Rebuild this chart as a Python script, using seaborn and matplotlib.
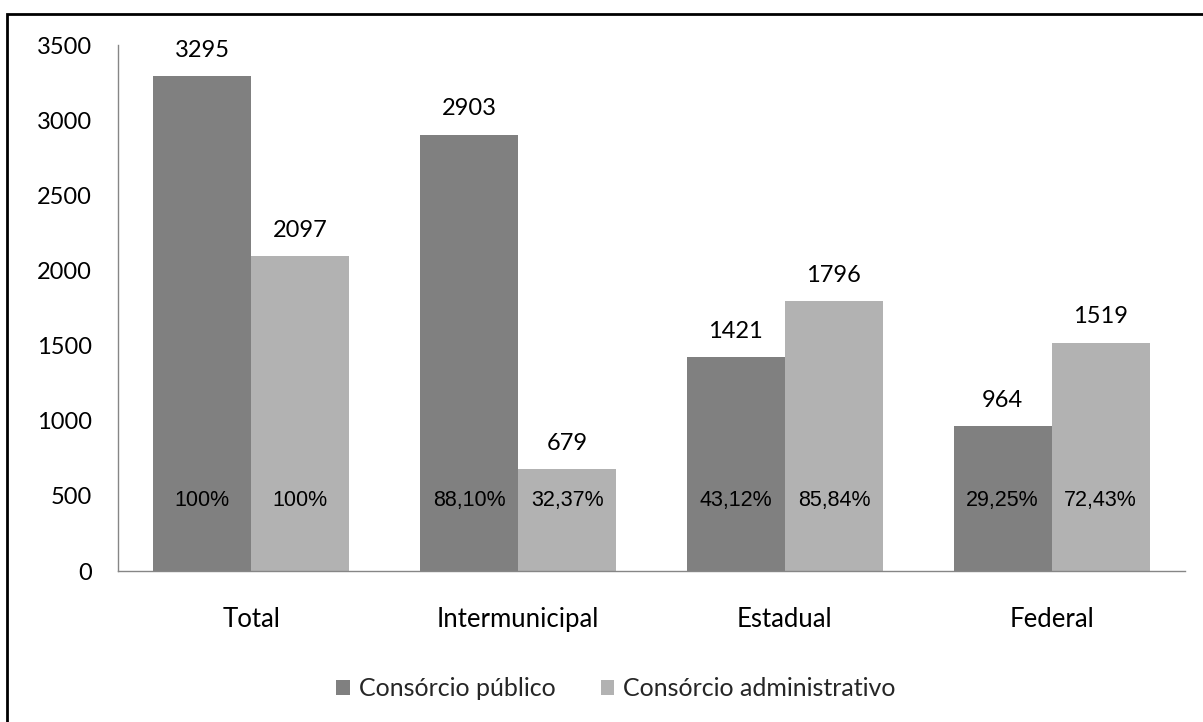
import matplotlib
matplotlib.use("Agg")
import matplotlib.pyplot as plt
from matplotlib.patches import Rectangle, Patch
import seaborn as sns
import pandas as pd

categorias = ["Total", "Intermunicipal", "Estadual", "Federal"]
series = ["Consórcio público", "Consórcio administrativo"]
publico = [3295, 2903, 1421, 964]
administrativo = [2097, 679, 1796, 1519]
pct_publico = ["100%", "88,10%", "43,12%", "29,25%"]
pct_administrativo = ["100%", "32,37%", "85,84%", "72,43%"]
yticks = [0, 500, 1000, 1500, 2000, 2500, 3000, 3500]

cores = ["#808080", "#b2b2b2"]

df = pd.DataFrame({
    "categoria": categorias * 2,
    "serie": [series[0]] * 4 + [series[1]] * 4,
    "valor": publico + administrativo,
})

sns.set_theme(style="white")
plt.rcParams["font.family"] = ["Lato", "DejaVu Sans"]

fig = plt.figure(figsize=(12.03, 7.22), dpi=100)
ax = fig.add_axes([118 / 1203, 1 - 571 / 722, (1185 - 118) / 1203, (571 - 45) / 722])

sns.barplot(data=df, x="categoria", y="valor", hue="serie", hue_order=series,
            order=categorias, palette=cores, saturation=1, width=0.735,
            edgecolor="none", linewidth=0, ax=ax, legend=False)

ax.set_ylim(0, 3500)
ax.set_yticks(yticks)
ax.set_xlabel("")
ax.set_ylabel("")
ax.tick_params(axis="y", length=0, pad=19, labelsize=17, colors="black")
ax.tick_params(axis="x", length=0, pad=26, labelsize=18.5, colors="black")
for s in ["top", "right"]:
    ax.spines[s].set_visible(False)
for s in ["left", "bottom"]:
    ax.spines[s].set_color("#868686")
    ax.spines[s].set_linewidth(1.0)

pcts = [pct_publico, pct_administrativo]
for cont, rotulos in zip(ax.containers, pcts):
    ax.bar_label(cont, fmt="%d", padding=11, fontsize=17, color="black")
    for bar, txt in zip(cont, rotulos):
        ax.text(bar.get_x() + bar.get_width() / 2, 470, txt, ha="center", va="center",
                fontsize=15.5, family=["Liberation Sans", "DejaVu Sans"], color="black")

handles = [Patch(facecolor=c, edgecolor="none") for c in cores]
fig.legend(handles, series, loc="center", bbox_to_anchor=(616 / 1203, 1 - 689 / 722), ncol=2,
           frameon=False, fontsize=18, handlelength=0.55, handleheight=0.55,
           handletextpad=0.35, columnspacing=1.8)

# outer frame: only the top and left edges fall inside the canvas
fig.patches.append(Rectangle((7 / 1203, -0.05), 1.1, 1 - 14 / 722 + 0.05,
                             transform=fig.transFigure, fill=False, edgecolor="black",
                             linewidth=2.0))

fig.savefig("out.png", dpi=100, facecolor="white")
